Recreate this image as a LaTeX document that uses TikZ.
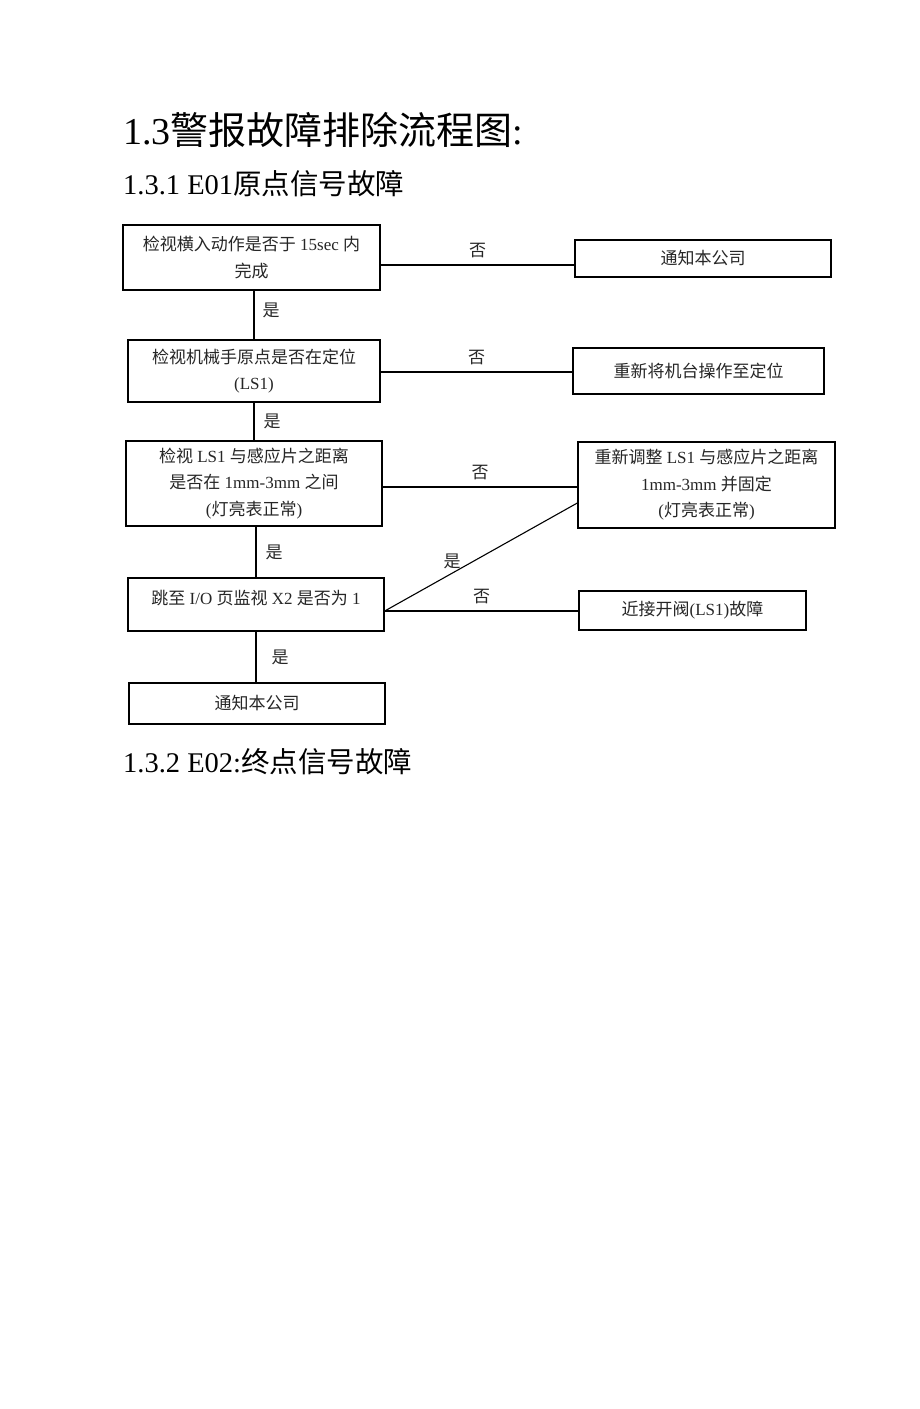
\documentclass[tikz,border=0pt]{standalone}
\usepackage{fontspec}
\setmainfont{Liberation Serif}
\newfontfamily\cjk{Noto Sans CJK SC}
\newcommand{\zh}[1]{{\cjk #1}}
\newlength{\du}
\setlength{\du}{1pt}
\definecolor{dialinecolor}{rgb}{0.000000, 0.000000, 0.000000}
\definecolor{textcolor}{rgb}{0.150000, 0.150000, 0.150000}
\tikzset{
  box/.style={draw=dialinecolor, line width=1.4\du, inner sep=0pt, align=center,
    text=textcolor, font=\fontsize{17}{26.5}\selectfont},
  lbl/.style={inner sep=1pt, text=textcolor, font=\fontsize{17}{20}\selectfont\cjk},
  conn/.style={draw=dialinecolor, line width=1.1\du},
}

\begin{document}
\begin{tikzpicture}[x=1\du,y=-1\du]
\path[fill=white,use as bounding box] (0,0) rectangle (920,1409);
% headings
\node[anchor=west, inner sep=0pt, font=\fontsize{38}{40}\selectfont] (title) at (123,130) {1.3\zh{警报故障排除流程图}:};
\node[anchor=west, inner sep=0pt, font=\fontsize{28.5}{30}\selectfont] (sub1) at (123,184) {1.3.1 E01\zh{原点信号故障}};
\node[anchor=west, inner sep=0pt, font=\fontsize{28.5}{30}\selectfont] (sub2) at (123,762) {1.3.2 E02:\zh{终点信号故障}};
% left column
\node[box, minimum width=257\du, minimum height=65\du] (A) at (251.5,257.5) {\zh{检视横入动作是否于} 15sec \zh{内}\\\zh{完成}};
\node[box, minimum width=252\du, minimum height=62\du] (C) at (254,371) {\zh{检视机械手原点是否在定位}\\(LS1)};
\node[box, minimum width=256\du, minimum height=85\du] (E) at (254,483.5) {\zh{检视} LS1 \zh{与感应片之距离}\\\zh{是否在} 1mm-3mm \zh{之间}\\(\zh{灯亮表正常})};
\node[box, minimum width=256\du, minimum height=53\du, text height=13\du, text depth=13\du] (G) at (256,604.5) {\zh{跳至} I/O \zh{页监视} X2 \zh{是否为} 1};
\node[box, minimum width=256\du, minimum height=41\du] (I) at (257,703.5) {\zh{通知本公司}};
% right column
\node[box, minimum width=256\du, minimum height=37\du] (B) at (703,258.5) {\zh{通知本公司}};
\node[box, minimum width=251\du, minimum height=46\du] (D) at (698.5,371) {\zh{重新将机台操作至定位}};
\node[box, minimum width=257\du, minimum height=86\du] (F) at (706.5,485) {\zh{重新调整} LS1 \zh{与感应片之距离}\\1mm-3mm \zh{并固定}\\(\zh{灯亮表正常})};
\node[box, minimum width=227\du, minimum height=39\du] (H) at (692.5,610.5) {\zh{近接开阀}(LS1)\zh{故障}};
% no branches
\draw[conn] ([yshift=-7.5\du]A.east) -- node[lbl, above=6\du] {否} ([yshift=-6.5\du]B.west);
\draw[conn] ([yshift=-1\du]C.east) -- node[lbl, above=6\du] {否} ([yshift=-1\du]D.west);
\draw[conn] ([yshift=-3.5\du]E.east) -- node[lbl, above=6\du] {否} ([yshift=-2\du]F.west);
\draw[conn] ([yshift=-6.5\du]G.east) -- node[lbl, above=6\du] {否} ([yshift=-0.5\du]H.west);
\draw[conn] ([yshift=-6.5\du]G.east) -- node[lbl, pos=0.35, above=3\du] {是} ([yshift=-18\du]F.west);
% yes branches
\draw[conn] (A.south -| C.north) -- node[lbl, pos=0.4, right=7\du] {是} (C.north);
\draw[conn] (C.south) -- node[lbl, right=8\du] {是} (E.north);
\draw[conn] (E.south -| G.north) -- node[lbl, right=8\du] {是} (G.north);
\draw[conn] (G.south) -- node[lbl, right=14\du] {是} (G.south |- I.north);
\end{tikzpicture}
\end{document}
